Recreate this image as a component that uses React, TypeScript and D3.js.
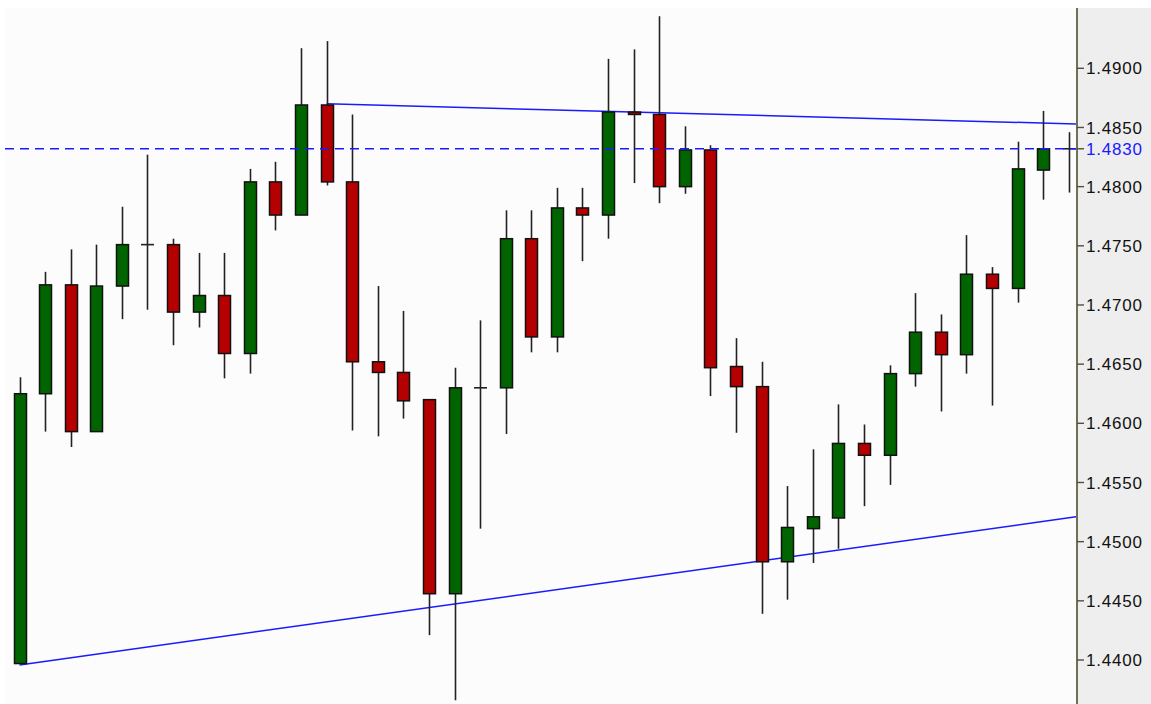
import React from "react";
import * as d3 from "d3";

const opens = [1.4397, 1.4625, 1.4717, 1.4593, 1.4716, 1.4751, 1.4751, 1.4694, 1.4708, 1.4659, 1.4804, 1.4776, 1.4869, 1.4804, 1.4652, 1.4643, 1.462, 1.4456, 1.463, 1.463, 1.4756, 1.4673, 1.4782, 1.4776, 1.4863, 1.4861, 1.48, 1.4831, 1.4648, 1.4631, 1.4483, 1.4511, 1.452, 1.4583, 1.4573, 1.4642, 1.4677, 1.4658, 1.4726, 1.4714, 1.4814, 1.4832];
const highs = [1.4639, 1.4728, 1.4747, 1.4751, 1.4783, 1.4827, 1.4756, 1.4744, 1.4744, 1.4815, 1.4821, 1.4917, 1.4923, 1.4861, 1.4716, 1.4695, 1.462, 1.4647, 1.4687, 1.478, 1.478, 1.4799, 1.4799, 1.4908, 1.4916, 1.4944, 1.4851, 1.4835, 1.4672, 1.4652, 1.4547, 1.4578, 1.4616, 1.4599, 1.4649, 1.471, 1.4692, 1.4759, 1.4732, 1.4838, 1.4864, 1.4846];
const lows = [1.4397, 1.4593, 1.458, 1.4593, 1.4688, 1.4696, 1.4666, 1.4681, 1.4638, 1.4642, 1.4763, 1.4776, 1.4801, 1.4594, 1.4589, 1.4604, 1.4421, 1.4366, 1.4511, 1.4591, 1.466, 1.466, 1.4737, 1.4756, 1.4803, 1.4786, 1.4794, 1.4623, 1.4592, 1.4439, 1.4451, 1.4482, 1.4494, 1.453, 1.4548, 1.4631, 1.461, 1.4642, 1.4615, 1.4702, 1.4789, 1.4795];
const closes = [1.4625, 1.4717, 1.4593, 1.4716, 1.4751, 1.4751, 1.4694, 1.4708, 1.4659, 1.4804, 1.4776, 1.4869, 1.4804, 1.4652, 1.4643, 1.4619, 1.4456, 1.463, 1.463, 1.4756, 1.4673, 1.4782, 1.4776, 1.4863, 1.4861, 1.48, 1.4831, 1.4647, 1.4631, 1.4483, 1.4512, 1.4521, 1.4583, 1.4573, 1.4642, 1.4677, 1.4658, 1.4726, 1.4714, 1.4815, 1.4832, 1.4832];

const yTicks = [1.44, 1.445, 1.45, 1.455, 1.46, 1.465, 1.47, 1.475, 1.48, 1.485, 1.49];
const bidLevel = 1.4832;
const bidLabel = "1.4830";

// trendlines: [index, price] anchors, extended to the right edge of the plot
const upperTrend = [[12, 1.487], [40, 1.48537]];
const lowerTrend = [[0, 1.43958], [40, 1.45171]];

export default function App() {
  const W = 1151, H = 704;
  const plotLeft = 5, plotTop = 8, axisX = 1077;
  const idx = d3.range(opens.length);
  const x = d3.scaleLinear().domain([0, opens.length - 1]).range([19.5, 1068.7]);
  const y = d3.scaleLinear().domain([1.44, 1.49]).range([660, 68.3]);
  const bodyW = 12;

  const trend = (pts: number[][], startIdx: number) => {
    const [[i0, v0], [i1, v1]] = pts;
    const slope = (v1 - v0) / (x(i1) - x(i0));
    const xs = x(startIdx);
    const xe = axisX - 1;
    const vs = v0 + slope * (xs - x(i0));
    const ve = v0 + slope * (xe - x(i0));
    return d3.line()([[xs, y(vs)], [xe, y(ve)]]) || "";
  };

  const font = "Liberation Sans, Arial, sans-serif";

  return (
    <svg width={W} height={H} style={{ position: "absolute", left: 0, top: 0, display: "block" }}>
      <rect x={0} y={0} width={W} height={H} fill="#ffffff" />
      <rect x={plotLeft} y={plotTop} width={axisX - plotLeft} height={H - plotTop} fill="#fcfcfc" />
      <rect x={axisX + 1} y={plotTop} width={W - axisX - 1} height={H - plotTop} fill="#eeeeee" />

      {/* trend lines */}
      <path d={trend(upperTrend, upperTrend[0][0])} stroke="#1a1aff" strokeWidth={1.5} fill="none" />
      <path d={trend(lowerTrend, lowerTrend[0][0])} stroke="#1a1aff" strokeWidth={1.5} fill="none" />

      {/* candles */}
      {idx.map((i) => {
        const o = opens[i], c = closes[i], h = highs[i], l = lows[i];
        const cx = Math.round(x(i)) + 0.5;
        const top = y(Math.max(o, c));
        const bot = y(Math.min(o, c));
        const doji = Math.abs(bot - top) < 1;
        const up = c >= o;
        return (
          <g key={i}>
            <line x1={cx} x2={cx} y1={y(h)} y2={y(l)} stroke="#222" strokeWidth={1.6} />
            {doji ? (
              <line x1={cx - bodyW / 2 - 0.5} x2={cx + bodyW / 2 + 0.5} y1={top} y2={top} stroke="#222" strokeWidth={1.6} />
            ) : (
              <rect
                x={cx - bodyW / 2}
                y={top}
                width={bodyW}
                height={bot - top}
                fill={up ? "#006400" : "#b40000"}
                stroke="#111"
                strokeWidth={1.5}
              />
            )}
          </g>
        );
      })}

      {/* bid line */}
      <line x1={plotLeft} x2={axisX - 1} y1={y(bidLevel)} y2={y(bidLevel)} stroke="#1a1aff" strokeWidth={1.5} strokeDasharray="9,6" />

      {/* axis */}
      <line x1={axisX} x2={axisX} y1={plotTop} y2={H} stroke="#707055" strokeWidth={2} />
      {yTicks.map((t) => (
        <g key={t}>
          <line x1={axisX} x2={axisX + 7} y1={y(t)} y2={y(t)} stroke="#505040" strokeWidth={1.4} />
          <text x={axisX + 9} y={y(t)} dy="0.36em" fontFamily={font} fontSize={17} letterSpacing={0.8} fill="#111">
            {d3.format(".4f")(t)}
          </text>
        </g>
      ))}
      <line x1={axisX} x2={axisX + 7} y1={y(bidLevel)} y2={y(bidLevel)} stroke="#505040" strokeWidth={1.4} />
      <text x={axisX + 9} y={y(bidLevel)} dy="0.36em" fontFamily={font} fontSize={17} letterSpacing={0.8} fill="#1a1aff">
        {bidLabel}
      </text>
    </svg>
  );
}
